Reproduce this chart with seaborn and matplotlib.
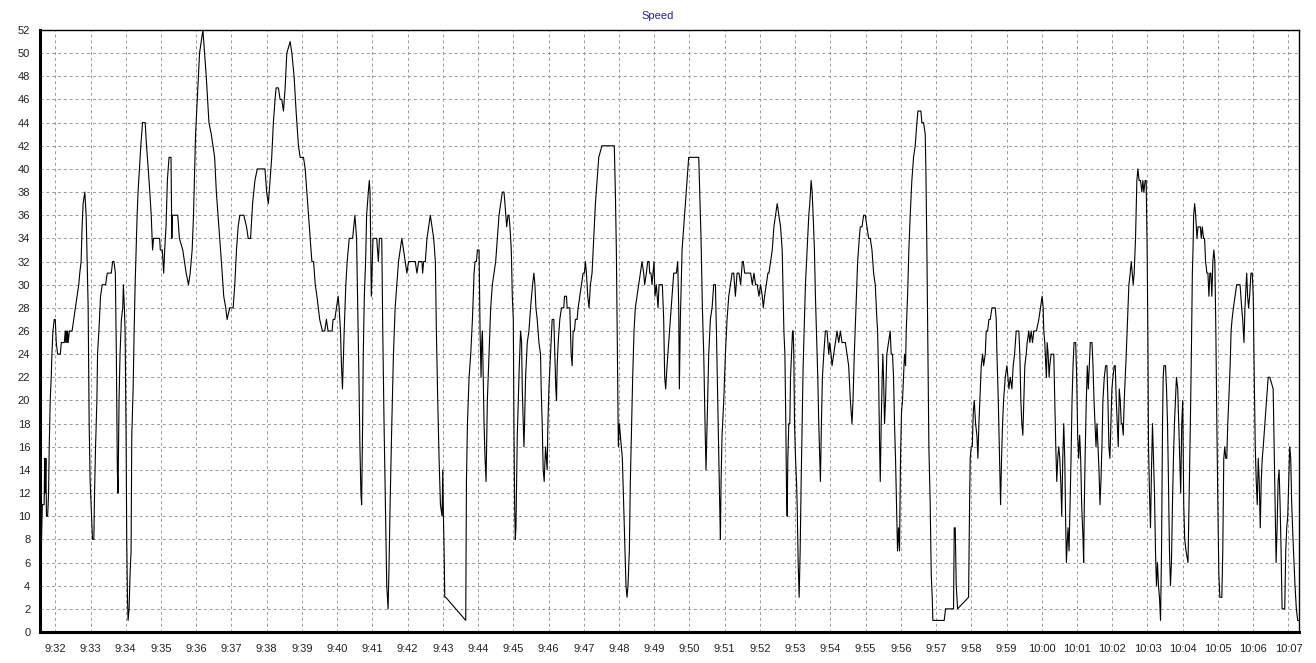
import pandas as pd
import numpy as np
import matplotlib
matplotlib.use("Agg")
import matplotlib.pyplot as plt
import matplotlib.dates as mdates
import seaborn as sns

# seconds after 9:31:00 and speed
secs = [
    34, 35, 36, 37, 38, 41, 42, 43, 44, 45, 47, 48.6, 49.7, 51.4, 53.1, 54.3, 56, 58.3, 60, 61.7,
    64, 68.6, 70.3, 75.4, 77, 78, 79, 80, 81, 82, 84, 88.6, 91.4, 94.3, 97.1, 100, 101.7, 104, 105.7, 107.4,
    110.3, 112.6, 114.3, 116, 117.7, 119.4, 121.7, 123.4, 125.7, 126.9, 128.6, 130.9, 132, 134.3, 137.1, 140, 145.7, 148.6, 155.4, 157.7,
    160, 162.3, 164, 165.7, 166.9, 168.6, 170.3, 172.6, 174.9, 176, 177.7, 178.9, 180.6, 181.7, 182.9, 184, 185.7, 187.4, 189.1, 190.3,
    192.6, 194.3, 196, 197.7, 199.4, 201, 203.4, 205.7, 208.6, 213.1, 215.4, 218.3, 221, 223.4, 225.7, 227.4, 233, 237.7, 238.9, 242.3,
    244.6, 246.3, 248.6, 250.9, 253.7, 257.1, 258.5, 259.5, 268.6, 271.4, 277.1, 282.9, 286.9, 289.7, 293.1, 295.4, 298.9, 305.7, 311.4, 317.1,
    321.7, 325.7, 331.4, 334.3, 340, 342.9, 346.9, 350.3, 352.6, 357.1, 362.9, 365.7, 368.6, 371.4, 374.3, 381.1, 385.7, 388.6, 392.6, 396,
    400, 404, 417.1, 420, 422.9, 425.7, 428.6, 431.4, 434.3, 436, 440, 442.9, 445.7, 448.6, 451.4, 454.3, 460, 462.9, 466.7, 470.1,
    474.1, 477, 482.7, 485.6, 488.4, 491.3, 494.1, 497, 499.9, 502.7, 505.6, 510.3, 514.9, 518.9, 521.7, 524.6, 531.4, 533.1, 536, 538.9,
    541.7, 543.4, 545.7, 547.4, 549.1, 550.3, 552, 554.8, 557.1, 560.6, 566.3, 570.3, 573.1, 574.8, 577.1, 578.8, 580.5, 581.7, 583.4, 584.5,
    586.3, 588.5, 590.2, 593.1, 594.8, 596, 597.1, 598.2, 599.4, 601.1, 604.5, 607.4, 610.2, 612, 616, 617.7, 619.9, 622.2, 624.5, 626.8,
    628.5, 630.2, 633.1, 635.9, 638.8, 641.6, 644.5, 647.4, 650.2, 653.1, 655.9, 658.8, 661.6, 673, 675.9, 678.8, 684.5, 685.6, 687.3, 690.2,
    693, 695.9, 698.7, 701.6, 704.4, 707.3, 709, 711.3, 713.6, 715.9, 718.7, 719.9, 721, 722.2, 723.3, 725, 759, 760.2, 761.9, 764.7,
    767.5, 770.4, 773.2, 774.9, 777.2, 778.9, 781.7, 783.4, 785.1, 786.2, 787.4, 788.5, 790.2, 791.9, 793.6, 795.8, 798.7, 801.5, 804.3, 807.2,
    810, 812.8, 815.7, 818.5, 821.3, 824.1, 825.8, 828.7, 830.9, 832.6, 834.3, 836.6, 838.3, 840, 841.1, 842.3, 843.4, 844.5, 845.7, 846.8,
    848.5, 850.2, 852.4, 854.1, 855.3, 857, 858.1, 859.2, 860.9, 863.8, 866.6, 869.4, 871.1, 872.8, 875.1, 876.8, 878.5, 880.7, 883.6, 886.4,
    887.5, 889.2, 890.9, 892.6, 894.9, 897.7, 898.9, 900.6, 903.4, 906.2, 909, 910.7, 912.4, 913.6, 914.7, 916.4, 919.2, 922.1, 926, 927.2,
    930.6, 931.7, 936.2, 938.5, 940.2, 941.9, 944.1, 945.8, 948.7, 950.4, 953.2, 956, 958.9, 961.1, 962.8, 964.5, 966.8, 969, 971.3, 974.1,
    977, 979.8, 982.6, 985.5, 991, 1012, 1013.8, 1015.5, 1017.7, 1018.9, 1020.6, 1022.3, 1024, 1025.7, 1028, 1030.2, 1031.9, 1033.6, 1035.3, 1037.6,
    1039.3, 1041.6, 1043.3, 1045.6, 1047.8, 1050.7, 1053.5, 1056.4, 1059.2, 1062, 1063.7, 1066.6, 1068.8, 1071.1, 1072.3, 1074.5, 1076.2, 1077.9, 1079.6, 1081.3,
    1083.6, 1086.5, 1088.2, 1093.8, 1096.1, 1097.8, 1099.5, 1101.8, 1104.6, 1107.5, 1110.3, 1113.2, 1117.7, 1120, 1121.7, 1122.8, 1124.5, 1127.4, 1130.2, 1133,
    1135.9, 1138.7, 1141.6, 1155.8, 1157.5, 1159.7, 1162, 1164.3, 1166.5, 1168.2, 1170, 1172.8, 1175.6, 1178.5, 1181.3, 1184.2, 1185.9, 1188.1, 1189.8, 1191.5,
    1192.7, 1193.8, 1195.5, 1198.4, 1201.2, 1204, 1206.9, 1209.7, 1212.6, 1215.4, 1218.2, 1221.1, 1224.3, 1227.2, 1230, 1231.7, 1234, 1237.4, 1241.3, 1244.2,
    1247, 1249.8, 1252.6, 1255.5, 1258.3, 1261.1, 1264, 1265.7, 1267.9, 1270.8, 1273.6, 1275.3, 1278.1, 1281, 1283.8, 1286.6, 1289.4, 1292.3, 1295.1, 1297.9,
    1299.6, 1300.8, 1302.5, 1304.1, 1305.3, 1306.4, 1307.5, 1309.2, 1310.9, 1312.1, 1313.8, 1315.5, 1316.6, 1317.7, 1318.9, 1320.6, 1322.3, 1323.4, 1325.1, 1326.8,
    1328.5, 1330.2, 1331.9, 1333.6, 1335.8, 1337.5, 1340.4, 1343.2, 1344.9, 1347.2, 1348.9, 1350.6, 1352.8, 1354.5, 1356.2, 1358.5, 1360.2, 1361.9, 1363, 1364.7,
    1366.4, 1368.7, 1371.5, 1374.3, 1377.2, 1378.9, 1381.1, 1382.8, 1385.7, 1388.5, 1391.3, 1394.2, 1397, 1399.8, 1402.6, 1405.5, 1408.3, 1411.1, 1414, 1416.8,
    1418.5, 1420.7, 1423.6, 1426.4, 1429.2, 1430.9, 1433.8, 1436.6, 1439.4, 1442.3, 1445.1, 1447.9, 1450.8, 1453.6, 1456.4, 1459.2, 1460.4, 1462.1, 1463.8, 1464.9,
    1466.5, 1468.2, 1469.3, 1470.5, 1472.2, 1473.9, 1476.1, 1479, 1481.8, 1483.5, 1485.8, 1487.5, 1489.2, 1490.9, 1492.6, 1494.3, 1496, 1497.7, 1499.4, 1501.1,
    1502.8, 1504.5, 1506.2, 1508, 1509.1, 1511.4, 1513.6, 1515.9, 1518.7, 1521.6, 1524.4, 1527.3, 1529, 1534.1, 1535.8, 1538.6, 1541.5, 1542.6, 1544.3, 1546,
    1547.7, 1550, 1551.7, 1553.4, 1554.5, 1573.8, 1576.1, 1589.7, 1590.9, 1592.6, 1594.3, 1596.6, 1615.3, 1617, 1618.1, 1619.8, 1621.6, 1623.3, 1625, 1627.2,
    1629.5, 1631.2, 1632.9, 1635.2, 1636.9, 1639.2, 1640.9, 1643.7, 1645.4, 1647.7, 1650, 1652.2, 1655.1, 1657.9, 1660.7, 1662.4, 1663.6, 1665.9, 1668.1, 1669.8,
    1671.5, 1673.2, 1674.9, 1677.8, 1680.6, 1682.3, 1684, 1686.3, 1689.1, 1691.3, 1693.6, 1696.4, 1700.9, 1702.6, 1704.3, 1706, 1707.7, 1709.4, 1711.1, 1713.4,
    1715.1, 1717.9, 1719.6, 1721.9, 1724.2, 1726.4, 1730.9, 1734.9, 1737.7, 1740.6, 1742.3, 1743.4, 1745.1, 1746.8, 1747.9, 1749.1, 1750.8, 1752.5, 1753.6, 1755.8,
    1760.4, 1762.1, 1763.8, 1765.5, 1767.2, 1768.9, 1770.6, 1772.3, 1774, 1775.7, 1777.4, 1779.1, 1780.8, 1781.9, 1783.6, 1784.7, 1786.4, 1788.1, 1789.8, 1791.5,
    1793.2, 1794.9, 1797.7, 1799.4, 1801.1, 1802.8, 1804.5, 1806.2, 1807.9, 1810.2, 1811.3, 1812.4, 1814.1, 1815.8, 1817.5, 1819.2, 1820.9, 1822.6, 1825.5, 1827.2,
    1828.9, 1830.6, 1832.3, 1834, 1835.7, 1837.4, 1839.1, 1840.7, 1842.4, 1844.1, 1846.4, 1848.7, 1850.9, 1852.6, 1854.3, 1856, 1857.7, 1859.4, 1861.1, 1863.4,
    1865.1, 1866.8, 1868.5, 1870.2, 1871.9, 1873.6, 1875.3, 1877, 1878.7, 1880.4, 1882.1, 1883.8, 1886, 1888.3, 1890.6, 1892.3, 1894, 1895.7, 1897.3, 1899.6,
    1901.9, 1903.6, 1905.8, 1908.1, 1910.4, 1912.1, 1913.8, 1916, 1917.7, 1919.4, 1920.6, 1921.7, 1923.4, 1925.1, 1926.8, 1928.5, 1930.2, 1931.9, 1933.6, 1935.3,
    1937, 1938.7, 1940.4, 1942.2, 1943.9, 1945.6, 1946.7, 1947.9, 1950.7, 1952.4, 1954.1, 1955.7, 1957.4, 1959.1, 1960.8, 1962.5, 1964.2, 1965.9, 1967.6, 1969.3,
    1971.5, 1973.2, 1974.9, 1976.6, 1978.3, 1980, 1981.7, 1983.4, 1985.6, 1989, 1991.3, 1993, 1994.7, 1996.4, 1997.5, 1998.6, 2000.3, 2002, 2004.3, 2006,
    2007.6, 2009.9, 2011.6, 2013.3, 2015.5, 2017.2, 2018.9, 2021.2, 2022.9, 2024.6, 2026.2, 2027.9, 2029.6, 2031.3, 2033, 2034.7, 2036.4, 2038.1, 2039.8, 2041.5,
    2043.2, 2046.6, 2048.2, 2049.9, 2051.6, 2053.3, 2055, 2056.7, 2058.4, 2060.7, 2062.4, 2064, 2066.3, 2069.1, 2071.9, 2077.6, 2080.4, 2082.1, 2084.3, 2086,
    2088.9, 2090.5, 2092.2, 2093.9, 2096.2, 2098.4, 2100.1, 2101.8, 2103.5, 2105.2, 2106.9, 2108.6, 2110.3, 2112, 2113.7, 2115.4, 2117.1, 2119.9, 2122.7, 2125.5,
    2128.3, 2134, 2135.7, 2137.4, 2139, 2140.7, 2142.4, 2144.1, 2145.8, 2147.5, 2149.2, 2153.7, 2155.4, 2157.1, 2158.8, 2160.5, 2162.2, 2163.9, 2165.6, 2167.8,
    2169.5, 2171.2, 2173.5, 2175.7, 2178,
]
speed = [
    2, 5, 6, 9, 11, 11, 15, 12, 15, 10, 10, 12, 16, 20, 22, 24, 26, 27, 27, 25,
    24, 24, 25, 25, 26, 25, 26, 25, 26, 25, 26, 26, 27, 28, 29, 30, 31, 32, 35, 37,
    38, 36, 32, 28, 18, 13, 10, 8, 8, 12, 16, 20, 24, 26, 29, 30, 30, 31, 31, 32,
    32, 31, 24, 14, 12, 20, 24, 27, 28, 30, 28, 26, 17, 8, 3, 1, 2, 5, 7, 17,
    21, 26, 30, 33, 36, 38, 40, 42, 44, 44, 42, 40, 38, 36, 33, 34, 34, 34, 33, 33,
    31, 33, 35, 39, 41, 41, 34, 36, 36, 34, 33, 31, 30, 31, 33, 36, 43, 50, 52, 48,
    44, 43, 41, 38, 34, 32, 29, 28, 27, 28, 28, 30, 33, 35, 36, 36, 35, 34, 34, 37,
    39, 40, 40, 38, 37, 39, 41, 44, 46, 47, 47, 46, 46, 45, 47, 50, 51, 50, 48, 45,
    42, 41, 41, 40, 38, 36, 34, 32, 32, 30, 29, 27, 26, 26, 27, 26, 26, 27, 27, 28,
    29, 28, 26, 23, 21, 23, 26, 30, 32, 34, 34, 36, 34, 29, 22, 16, 12, 11, 18, 24,
    29, 32, 36, 38, 39, 38, 34, 29, 31, 34, 34, 34, 32, 34, 34, 26, 18, 11, 4, 2,
    6, 11, 18, 24, 28, 30, 32, 33, 34, 33, 32, 31, 32, 32, 31, 32, 32, 31, 32, 32,
    34, 35, 36, 35, 34, 32, 26, 20, 15, 11, 10, 14, 10, 7, 3, 3, 1, 13, 18, 22,
    24, 27, 31, 32, 32, 33, 33, 26, 22, 25, 26, 23, 18, 15, 13, 20, 24, 28, 30, 31,
    32, 34, 36, 37, 38, 38, 37, 35, 36, 36, 35, 33, 29, 27, 18, 11, 8, 9, 13, 17,
    20, 23, 26, 25, 21, 18, 16, 18, 22, 25, 26, 28, 29, 30, 31, 30, 28, 27, 25, 24,
    21, 18, 14, 13, 16, 14, 18, 21, 24, 27, 27, 24, 21, 20, 23, 25, 27, 28, 28, 29,
    29, 28, 28, 24, 23, 26, 26, 27, 27, 28, 29, 30, 31, 31, 32, 31, 29, 28, 30, 31,
    34, 37, 39, 41, 42, 42, 38, 33, 22, 16, 18, 17, 16, 15, 11, 7, 4, 3, 4, 7,
    13, 18, 22, 26, 28, 29, 30, 31, 32, 31, 30, 31, 32, 32, 31, 31, 30, 31, 32, 29,
    30, 28, 30, 30, 27, 22, 21, 23, 25, 27, 29, 31, 31, 32, 28, 21, 27, 33, 35, 37,
    39, 41, 41, 41, 38, 34, 28, 24, 18, 14, 18, 24, 27, 28, 30, 30, 26, 20, 15, 11,
    8, 13, 17, 20, 24, 27, 29, 30, 31, 31, 29, 31, 31, 30, 32, 32, 31, 31, 31, 31,
    30, 31, 30, 30, 29, 30, 29, 28, 29, 30, 31, 31, 32, 33, 35, 36, 37, 36, 35, 33,
    29, 26, 24, 18, 12, 10, 15, 18, 18, 22, 24, 26, 26, 24, 18, 15, 13, 11, 6, 3,
    7, 13, 18, 23, 27, 30, 33, 36, 37, 39, 38, 36, 33, 29, 26, 22, 18, 15, 13, 18,
    22, 24, 26, 26, 24, 25, 24, 23, 24, 25, 26, 25, 26, 25, 25, 25, 24, 23, 20, 18,
    20, 24, 28, 32, 34, 35, 35, 36, 36, 35, 34, 34, 33, 31, 30, 27, 26, 22, 16, 13,
    18, 22, 24, 22, 18, 20, 24, 25, 26, 24, 24, 22, 18, 15, 11, 7, 9, 7, 15, 19,
    20, 22, 24, 23, 26, 29, 33, 36, 39, 41, 42, 44, 45, 45, 44, 44, 43, 40, 33, 24,
    16, 11, 5, 3, 1, 1, 2, 2, 9, 9, 4, 2, 3, 11, 15, 16, 16, 19, 20, 18,
    17, 15, 18, 21, 23, 24, 23, 24, 26, 26, 27, 27, 28, 28, 28, 27, 24, 20, 15, 11,
    15, 18, 20, 22, 23, 22, 21, 22, 21, 23, 24, 26, 26, 24, 20, 18, 17, 20, 23, 24,
    25, 26, 25, 26, 25, 26, 26, 27, 28, 29, 28, 26, 25, 23, 22, 25, 24, 22, 23, 24,
    24, 20, 16, 13, 15, 16, 15, 13, 10, 15, 18, 15, 9, 6, 8, 9, 7, 11, 15, 20,
    23, 25, 25, 22, 17, 15, 17, 15, 11, 8, 6, 11, 16, 20, 23, 21, 23, 25, 25, 23,
    20, 18, 16, 18, 16, 14, 11, 13, 16, 20, 22, 23, 23, 20, 16, 15, 18, 21, 22, 23,
    23, 20, 18, 16, 21, 20, 18, 18, 17, 20, 22, 24, 27, 30, 31, 32, 31, 30, 31, 34,
    39, 40, 39, 39, 38, 39, 38, 39, 39, 33, 26, 16, 12, 9, 14, 18, 15, 12, 7, 4,
    6, 4, 3, 1, 7, 18, 22, 23, 23, 21, 18, 13, 7, 4, 6, 11, 15, 18, 20, 22,
    21, 18, 15, 12, 18, 20, 11, 8, 7, 6, 13, 18, 24, 31, 33, 36, 37, 36, 34, 35,
    35, 35, 34, 35, 34, 34, 32, 31, 31, 29, 31, 31, 29, 32, 33, 32, 26, 18, 11, 5,
    3, 3, 7, 15, 16, 15, 15, 18, 20, 23, 26, 27, 28, 29, 30, 30, 28, 27, 25, 28,
    31, 29, 28, 29, 31, 31, 29, 22, 16, 13, 11, 15, 13, 9, 13, 15, 16, 18, 20, 22,
    22, 21, 16, 11, 6, 9, 13, 14, 11, 7, 2, 2, 7, 9, 10, 13, 16, 15, 11, 8,
    6, 4, 2, 1, 1,
]

t0 = pd.Timestamp("2000-01-01 09:31:00")
df = pd.DataFrame({
    "time": t0 + pd.to_timedelta(secs, unit="s"),
    "speed": speed,
})

sns.set_style("white")
plt.rcParams["font.family"] = ["Liberation Sans", "DejaVu Sans"]

fig = plt.figure(figsize=(13.16, 6.63), dpi=100)
ax = fig.add_axes([40 / 1316, 1 - 632 / 663, 1259 / 1316, 602 / 663])

sns.lineplot(data=df, x="time", y="speed", ax=ax, color="black", lw=0.8,
             estimator=None, sort=False)

ax.set_xlim(df["time"].iloc[0], df["time"].iloc[-1])
ax.set_ylim(0, 52)
ax.set_yticks(np.arange(0, 53, 2))

ax.xaxis.set_major_locator(mdates.MinuteLocator())
ax.xaxis.set_minor_locator(mdates.SecondLocator(bysecond=range(0, 60, 10)))
ax.xaxis.set_major_formatter(plt.FuncFormatter(
    lambda v, p: "{}:{:02d}".format(mdates.num2date(v).hour, mdates.num2date(v).minute)))

ax.grid(True, which="major", color="#9a9a9a", linestyle=(0, (3, 3)), lw=0.7)
ax.tick_params(axis="x", which="major", length=3, width=1, pad=6, labelsize=8, colors="#222222")
ax.tick_params(axis="x", which="minor", length=2, width=1, color="#222222")
ax.tick_params(axis="y", length=0, pad=7, labelsize=8, colors="#222222")

for side in ["left", "bottom"]:
    ax.spines[side].set_linewidth(2.2)
    ax.spines[side].set_color("black")
for side in ["top", "right"]:
    ax.spines[side].set_linewidth(1.0)
    ax.spines[side].set_color("black")

ax.set_xlabel("")
ax.set_ylabel("")
fig.text(658 / 1316, 1 - 16 / 663, "Speed", ha="center", va="center",
         fontsize=8, color="#1f1fa8")

fig.savefig("out.png", dpi=100)
